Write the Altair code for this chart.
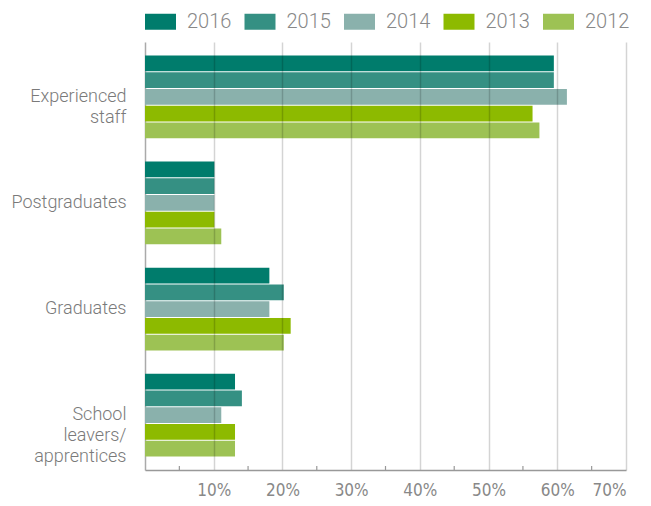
import altair as alt
import pandas as pd

categories = ["Experienced staff", "Postgraduates", "Graduates", "School leavers/apprentices"]
years = ["2016", "2015", "2014", "2013", "2012"]
v2016 = [59.5, 10.1, 18.1, 13.1]
v2015 = [59.5, 10.1, 20.2, 14.1]
v2014 = [61.4, 10.1, 18.1, 11.1]
v2013 = [56.4, 10.1, 21.2, 13.1]
v2012 = [57.4, 11.1, 20.2, 13.1]
colors = ["#007c6c", "#359083", "#8ab1ac", "#8dba00", "#9dc254"]
x_ticks = [10, 20, 30, 40, 50, 60, 70]
minor_ticks = [5, 15, 25, 35, 45, 55, 65]

series = {"2016": v2016, "2015": v2015, "2014": v2014, "2013": v2013, "2012": v2012}
rows = []
for y in years:
    for c, v in zip(categories, series[y]):
        rows.append({"category": c, "year": y, "value": v})
df = pd.DataFrame(rows)

W, H = 481, 428
font_main = "Roboto"
font_cond = "'Liberation Sans Narrow', 'DejaVu Sans Condensed', 'Roboto Condensed', Roboto"

bars = alt.Chart(df).mark_bar().encode(
    y=alt.Y(
        "category:N",
        sort=categories,
        scale=alt.Scale(paddingInner=0.22, paddingOuter=0.128),
        axis=alt.Axis(
            title=None, ticks=False, grid=False,
            labelExpr="split(replace(datum.label, '/', '/ '), ' ')",
            labelFontSize=18, labelColor="#7a7a7a", labelFont=font_main,
            labelFontWeight=300, labelPadding=19, labelLineHeight=21,
            labelLimit=250, domainColor="#aaaaaa", domainWidth=1.5,
        ),
    ),
    yOffset=alt.YOffset("year:N", sort=years, scale=alt.Scale(paddingInner=0.06)),
    x=alt.X(
        "value:Q",
        scale=alt.Scale(domain=[0, 70], nice=False),
        axis=alt.Axis(
            title=None, values=x_ticks, labelExpr="datum.value + '%'",
            ticks=False, grid=True, gridColor="#000000", gridOpacity=0.17,
            gridWidth=1.5, zindex=1, domainColor="#999999", domainWidth=1.5,
            labelFontSize=17, labelColor="#888888", labelFont=font_cond,
            labelPadding=12,
        ),
    ),
    color=alt.Color(
        "year:N",
        sort=years,
        scale=alt.Scale(domain=years, range=colors),
        legend=alt.Legend(
            title=None, orient="none", legendX=0, legendY=-36,
            direction="horizontal",
            symbolType="M-1,-0.516H1V0.516H-1Z", symbolSize=961,
            symbolStrokeWidth=0, symbolOpacity=1,
            labelFontSize=20, labelColor="#888888", labelFont=font_main,
            labelFontWeight=300, labelOffset=11, columnPadding=12.5, padding=0,
        ),
    ),
)

rules = alt.Chart(pd.DataFrame({"value": minor_ticks})).mark_rule(
    color="#999999", strokeWidth=1.2
).encode(
    x=alt.X("value:Q"),
    y=alt.value(H - 4),
    y2=alt.value(H),
)

chart = alt.layer(bars, rules).properties(
    width=W, height=H,
    autosize=alt.AutoSizeParams(type="none"),
    padding={"left": 137, "top": 34, "right": 10, "bottom": 28},
).configure_view(stroke=None)

chart.save("out.html", embed_options={"renderer": "svg", "actions": False})
